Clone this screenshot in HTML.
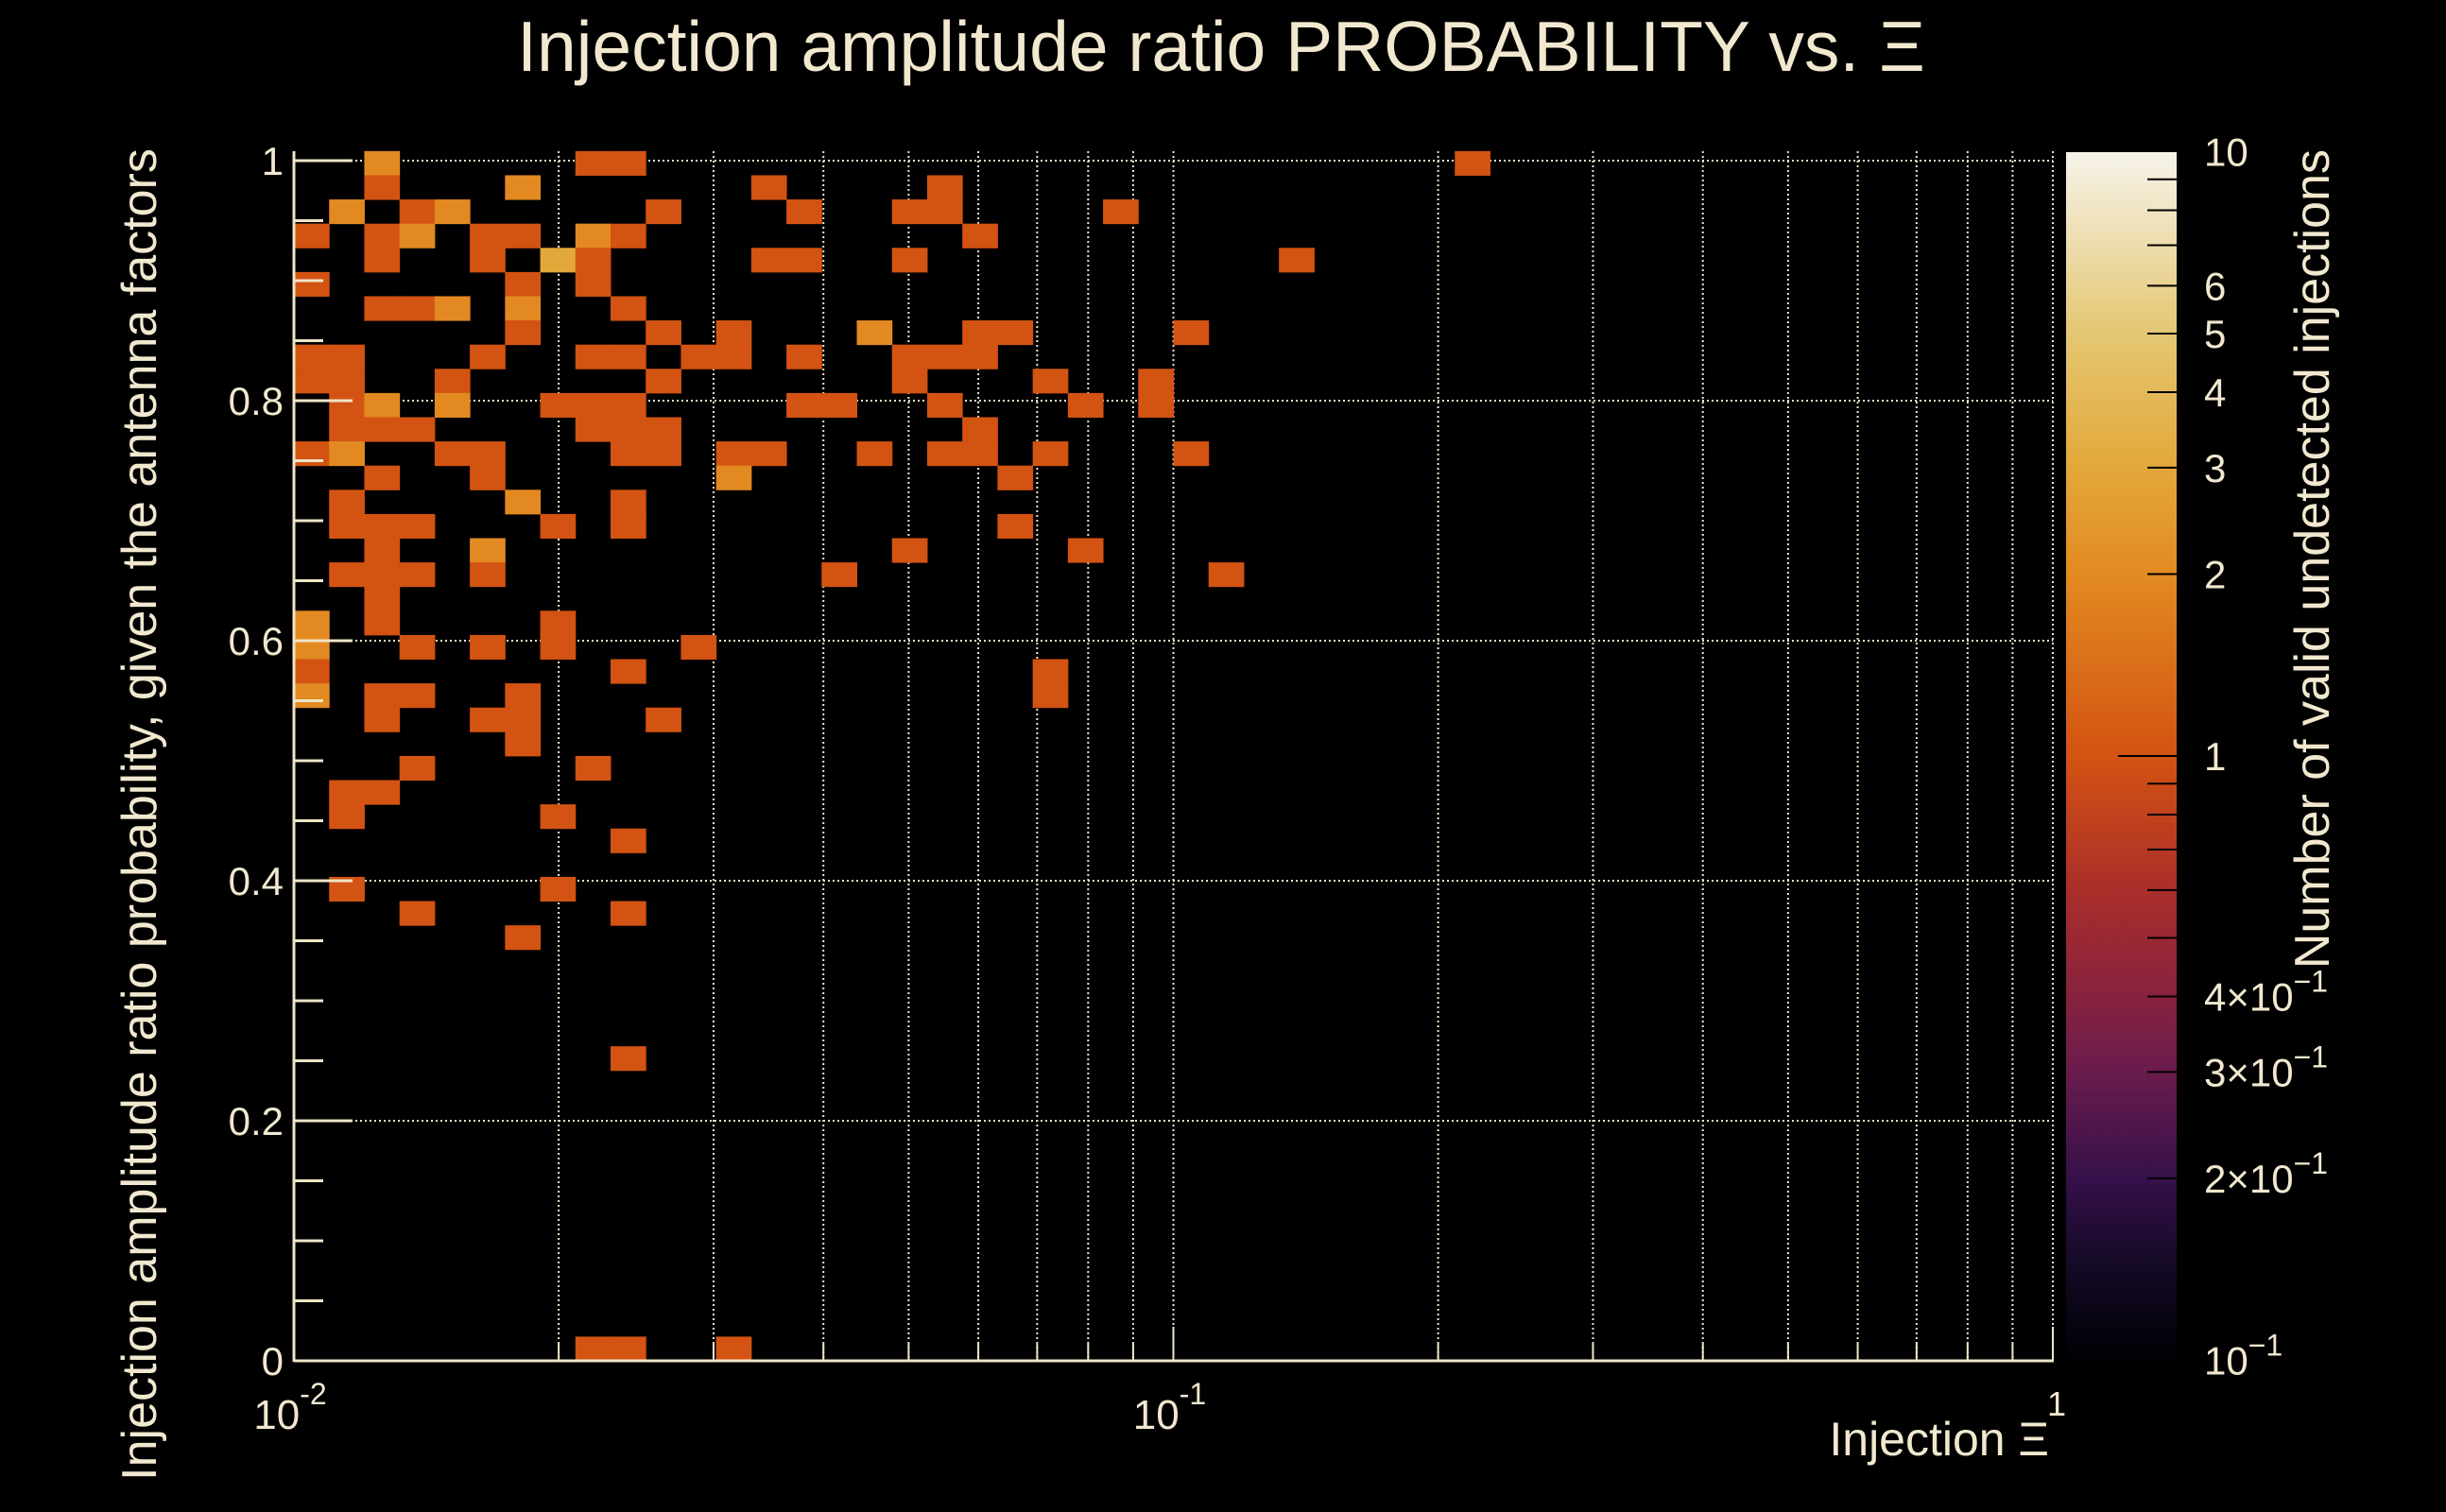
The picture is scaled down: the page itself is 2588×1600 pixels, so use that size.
<!DOCTYPE html>
<html><head><meta charset="utf-8"><style>
html,body{margin:0;padding:0;background:#000;}
svg{display:block;}
text{font-family:"Liberation Sans",sans-serif;fill:#f1e8cf;}
</style></head><body>
<svg id="chart" width="2588" height="1600" viewBox="0 0 2588 1600" xmlns="http://www.w3.org/2000/svg">
<defs>
<linearGradient id="cbgrad" x1="0" y1="1" x2="0" y2="0">
<stop offset="0" stop-color="#000004"/>
<stop offset="0.08" stop-color="#140a26"/>
<stop offset="0.15" stop-color="#35104a"/>
<stop offset="0.24" stop-color="#6a1c4c"/>
<stop offset="0.30" stop-color="#86223f"/>
<stop offset="0.39" stop-color="#aa2e2a"/>
<stop offset="0.50" stop-color="#d35312"/>
<stop offset="0.65" stop-color="#e28a21"/>
<stop offset="0.74" stop-color="#e3a83a"/>
<stop offset="0.85" stop-color="#e4c772"/>
<stop offset="1" stop-color="#f6f3ea"/>
</linearGradient>
</defs>
<g id="grid"></g>
<g id="cells"></g>
<g id="axes"></g>
<text x="1292" y="75" font-size="75" text-anchor="middle">Injection amplitude ratio PROBABILITY vs.  Ξ</text>
<text x="2168" y="1540" font-size="50" text-anchor="end">Injection Ξ</text>
<text transform="translate(165,862) rotate(-90)" font-size="52" text-anchor="middle">Injection amplitude ratio probability, given the antenna factors</text>
<rect x="2186" y="161" width="117" height="1279" fill="url(#cbgrad)"/>
<g id="cbaxis"></g>
<text transform="translate(2464,158) rotate(-90)" font-size="52" text-anchor="end">Number of valid undetected injections</text>
</svg>
<script>
// Data: bin indices (x bin 0..49 log-spaced 0.01..1, y bin 0..49 from bottom) and counts
const xBins = [2,8,9,33, 2,6,13,18, 1,3,4,10,14,17,18,23, 0,2,3,5,6,8,9,19, 2,5,7,8,13,14,17,28, 0,6,8, 2,3,4,6,9, 6,10,12,16,19,20,25, 0,1,5,8,9,11,12,14,17,18,19, 0,1,4,10,17,21,24, 1,2,4,7,8,9,14,15,18,22,24, 1,2,3,8,9,10,19, 0,1,4,5,9,10,12,13,16,18,19,21,25, 2,5,12,20, 1,6,9, 1,2,3,7,9,20, 2,5,17,22, 1,2,3,5,15,26, 2, 0,2,7, 0,3,5,7,11, 0,9,21, 0,2,3,6,21, 2,5,6,10, 6, 3,8, 1,2, 1,7, 9, 1,7, 3,9, 6, 9, 8,9,12];
const yRows = [0,0,0,0, 1,1,1,1, 2,2,2,2,2,2,2,2, 3,3,3,3,3,3,3,3, 4,4,4,4,4,4,4,4, 5,5,5, 6,6,6,6,6, 7,7,7,7,7,7,7, 8,8,8,8,8,8,8,8,8,8,8, 9,9,9,9,9,9,9, 10,10,10,10,10,10,10,10,10,10,10, 11,11,11,11,11,11,11, 12,12,12,12,12,12,12,12,12,12,12,12,12, 13,13,13,13, 14,14,14, 15,15,15,15,15,15, 16,16,16,16, 17,17,17,17,17,17, 18, 19,19,19, 20,20,20,20,20, 21,21,21, 22,22,22,22,22, 23,23,23,23, 24, 25,25, 26,26, 27,27, 28, 30,30, 31,31, 32, 37, 49,49,49];
const counts = [2,1,1,1, 1,2,1,1, 2,1,2,1,1,1,1,1, 1,1,2,1,1,2,1,1, 1,1,3,1,1,1,1,1, 1,1,1, 1,1,2,2,1, 1,1,1,2,1,1,1, 1,1,1,1,1,1,1,1,1,1,1, 1,1,1,1,1,1,1, 1,2,2,1,1,1,1,1,1,1,1, 1,1,1,1,1,1,1, 1,2,1,1,1,1,1,1,1,1,1,1,1, 1,1,2,1, 1,2,1, 1,1,1,1,1,1, 1,2,1,1, 1,1,1,1,1,1, 1, 2,1,1, 2,1,1,1,1, 1,1,1, 2,1,1,1,1, 1,1,1,1, 1, 1,1, 1,1, 1,1, 1, 1,1, 1,1, 1, 1, 1,1,1];
const yTickValues = [0,0.2,0.4,0.6,0.8,1];
const yTickLabels = ["0","0.2","0.4","0.6","0.8","1"];
const cbTickValues = [10,6,5,4,3,2,1,0.4,0.3,0.2,0.1];
const cbTickLabels = ["10","6","5","4","3","2","1","4×10⁻¹","3×10⁻¹","2×10⁻¹","10⁻¹"];

const NS="http://www.w3.org/2000/svg";
const X0=311, DEC=930.5, Y0=1440, YU=1270, YMAX=1.008, NB=50;
function xPix(v){return X0+(Math.log10(v)+2)*DEC;}
function yPix(v){return Y0-v*YU;}
function xEdge(i){return Math.pow(10,-2+2*i/NB);}
function yEdge(k){return k*YMAX/NB;}
function cbPix(v){return 800-Math.log10(v)*639.5;}
const stops=[[0,[0,0,4]],[0.08,[20,10,38]],[0.15,[53,16,74]],[0.24,[106,28,76]],[0.30,[134,34,63]],[0.39,[170,46,42]],[0.5,[211,83,18]],[0.65,[226,138,33]],[0.74,[227,168,58]],[0.85,[228,199,114]],[1,[246,243,234]]];
function color(v){
  let t=(Math.log10(v)+1)/2; t=Math.max(0,Math.min(1,t));
  for(let i=1;i<stops.length;i++){ if(t<=stops[i][0]){const a=stops[i-1],b=stops[i];const f=(t-a[0])/(b[0]-a[0]);
    const c=a[1].map((x,j)=>Math.round(x+(b[1][j]-x)*f));return `rgb(${c[0]},${c[1]},${c[2]})`;}}
  return "rgb(246,243,234)";
}
function mk(tag,attrs,parent){const e=document.createElementNS(NS,tag);for(const k in attrs)e.setAttribute(k,attrs[k]);parent.appendChild(e);return e;}

const grid=document.getElementById('grid');
const GC="#efe5c8";
for(let d=-2;d<0;d++){for(let m=1;m<=9;m++){const v=m*Math.pow(10,d);if(v<=0.01)continue;
  const x=xPix(v);
  const l=mk('line',{x1:x,y1:160,x2:x,y2:1440,stroke:GC,'stroke-width':2,'stroke-dasharray':'2,3'},grid);
  
  
}}
{const x=xPix(1);const l=mk('line',{x1:x,y1:160,x2:x,y2:1440,stroke:GC,'stroke-width':2,'stroke-dasharray':'2,3'},grid);
 
 }
yTickValues.forEach(v=>{const y=yPix(v);
  const l=mk('line',{x1:X0,y1:y,x2:2172,y2:y,stroke:GC,'stroke-width':2,'stroke-dasharray':'2,3'},grid);
  
  
});

const cells=document.getElementById('cells');
for(let n=0;n<counts.length;n++){
  const i=xBins[n], k=NB-1-yRows[n];
  const x1=xPix(xEdge(i)), x2=xPix(xEdge(i+1));
  const yTop=yPix(yEdge(k+1)), yBot=yPix(yEdge(k));
  const r=mk('rect',{x:x1,y:yTop,width:x2-x1+0.5,height:yBot-yTop+0.5,fill:color(counts[n])},cells);
  
  
}

const axes=document.getElementById('axes');
mk('line',{x1:X0,y1:160,x2:X0,y2:1441,stroke:GC,'stroke-width':3},axes);
mk('line',{x1:X0,y1:1440,x2:2173,y2:1440,stroke:GC,'stroke-width':3},axes);
for(let k=0;k<=20;k++){const v=k*0.05;const y=yPix(v);const major=(k%4===0);
  const t=mk('line',{x1:X0,y1:y,x2:X0+(major?62:31),y2:y,stroke:GC,'stroke-width':3},axes);
  
  
}
yTickValues.forEach((v,i)=>{
  const t=mk('text',{x:300,y:yPix(v)+15,'font-size':42,'text-anchor':'end'},axes);
  t.textContent=yTickLabels[i];
  
  
});
for(let d=-2;d<=0;d++){for(let m=1;m<=9;m++){const v=m*Math.pow(10,d);if(v>1.0001)break;
  const x=xPix(v);const major=(m===1);
  const t=mk('line',{x1:x,y1:1440,x2:x,y2:1440-(major?36:18),stroke:GC,'stroke-width':2},axes);
  
  
}}
[[0.01,"-2"],[0.1,"-1"]].forEach(p=>{
  const t=mk('text',{x:xPix(p[0])-4,y:1512,'font-size':44,'text-anchor':'middle'},axes);
  
  
  t.textContent="10";
  const s=mk('tspan',{dy:-26,'font-size':32},t);s.textContent=p[1];
});
{const t=mk('text',{x:xPix(1)+4,y:1498,'font-size':36,'text-anchor':'middle'},axes);t.textContent="1";
 
 }

const cb=document.getElementById('cbaxis');
[0.1,0.2,0.3,0.4,0.5,0.6,0.7,0.8,0.9,1,2,3,4,5,6,7,8,9,10].forEach(v=>{
  const y=cbPix(v);const major=(Math.abs(v-1)<1e-9);
  if(v===0.1||v===10)return;
  const t=mk('line',{x1:2303-(major?62:31),y1:y,x2:2303,y2:y,stroke:"#000",'stroke-width':2},cb);
  
  
});
cbTickValues.forEach((v,i)=>{
  const t=mk('text',{x:2332,y:cbPix(v)+15,'font-size':42},cb);
  
  
  const lab=cbTickLabels[i];
  const m=lab.match(/^(.*10)(⁻¹)$/);
  if(m){t.textContent=m[1];const s=mk('tspan',{dy:-20,'font-size':32},t);s.textContent="−1";}
  else t.textContent=lab;
});
</script>
</body></html>
